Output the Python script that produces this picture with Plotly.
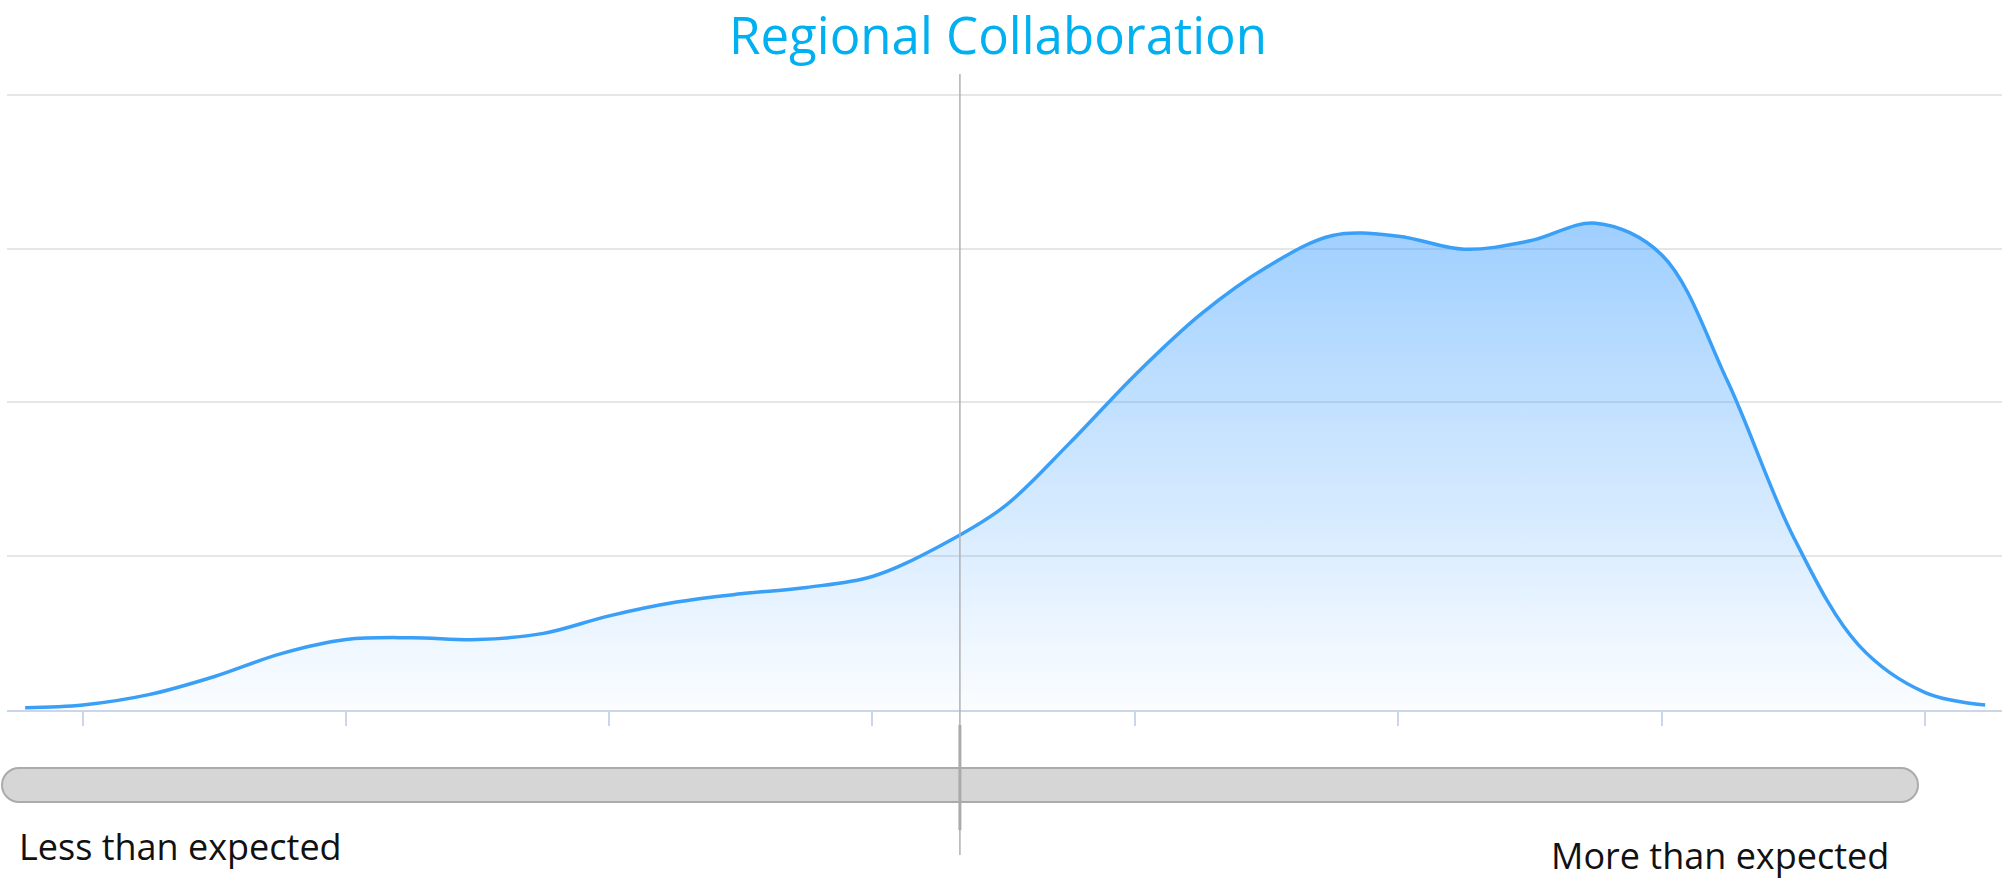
import plotly.graph_objects as go

# Density curve of the regional collaboration score (axis units: tick spacing = 1)
score_x = [-0.22, 0.00, 0.25, 0.50, 0.75, 1.00, 1.25, 1.50, 1.75, 2.00, 2.25, 2.50,
           2.75, 3.00, 3.25, 3.50, 3.75, 4.00, 4.25, 4.50, 4.75, 5.00, 5.25, 5.50,
           5.75, 6.00, 6.25, 6.50, 6.75, 7.00, 7.23]
density_y = [0.015, 0.033, 0.100, 0.218, 0.365, 0.458, 0.470, 0.458, 0.498, 0.612, 0.700, 0.755,
             0.797, 0.868, 1.060, 1.320, 1.735, 2.180, 2.575, 2.880, 3.085, 3.080, 2.995, 3.050,
             3.165, 2.960, 2.140, 1.130, 0.420, 0.115, 0.033]

x_ticks = [0, 1, 2, 3, 4, 5, 6, 7]
y_ticks = [0, 1, 2, 3, 4]
x_range = [-0.289, 7.294]
y_range = [0, 4.05]

# Position of the respondent's own score on the scale
own_score = 3.333

title_text = "Regional Collaboration"
low_label = "Less than expected"
high_label = "More than expected"

# Figure geometry (pixels)
W, H = 2002, 880
M_L, M_R, M_T, M_B = 7, 0, 87, 170
PLOT_W = W - M_L - M_R
PLOT_H = H - M_T - M_B
PLOT_BOTTOM = H - M_B


def row_to_paper(y_px):
    """Pixel row -> paper y."""
    return (PLOT_BOTTOM - y_px) / PLOT_H


def col_to_paper(x_px):
    """Pixel column -> paper x."""
    return (x_px - M_L) / PLOT_W


def data_to_paper(xv):
    """Data x -> paper x."""
    return (xv - x_range[0]) / (x_range[1] - x_range[0])


fig = go.Figure()

fig.add_trace(go.Scatter(
    x=score_x,
    y=density_y,
    mode="lines",
    line=dict(color="#3a9ff7", width=3.5, shape="spline", smoothing=1),
    fill="tozeroy",
    fillgradient=dict(
        type="vertical",
        colorscale=[[0, "rgba(51,153,255,0.02)"], [1, "rgba(51,153,255,0.47)"]],
    ),
    hoverinfo="skip",
    showlegend=False,
))

shapes = []

# Rounded slider track below the chart
x0, x1 = col_to_paper(2), col_to_paper(1918)
y_top, y_bot = row_to_paper(768), row_to_paper(802)
r_px = 17
rx = r_px / PLOT_W
ry = (y_top - y_bot) / 2
k = 0.5523
ym = (y_top + y_bot) / 2
path = (
    f"M {x0 + rx},{y_top} L {x1 - rx},{y_top} "
    f"C {x1 - rx + k * rx},{y_top} {x1},{ym + k * ry} {x1},{ym} "
    f"C {x1},{ym - k * ry} {x1 - rx + k * rx},{y_bot} {x1 - rx},{y_bot} "
    f"L {x0 + rx},{y_bot} "
    f"C {x0 + rx - k * rx},{y_bot} {x0},{ym - k * ry} {x0},{ym} "
    f"C {x0},{ym + k * ry} {x0 + rx - k * rx},{y_top} {x0 + rx},{y_top} Z"
)
shapes.append(dict(type="path", xref="paper", yref="paper", path=path,
                   fillcolor="#d6d6d6", line=dict(color="#ababab", width=2), layer="above"))

# Marker line for the own score, running through the chart and the track
mx = data_to_paper(own_score)
shapes.append(dict(type="line", xref="paper", yref="paper",
                   x0=mx, x1=mx, y0=row_to_paper(74), y1=row_to_paper(855),
                   line=dict(color="#b0b0b0", width=1.5), layer="above"))
shapes.append(dict(type="line", xref="paper", yref="paper",
                   x0=mx, x1=mx, y0=row_to_paper(725), y1=row_to_paper(830),
                   line=dict(color="#ababab", width=3), layer="above"))

annotations = [
    dict(text=low_label, xref="paper", yref="paper", x=col_to_paper(17), y=row_to_paper(846),
         xanchor="left", yanchor="middle", showarrow=False,
         font=dict(family="Open Sans", size=36, color="#111111")),
    dict(text=high_label, xref="paper", yref="paper", x=col_to_paper(1549), y=row_to_paper(855),
         xanchor="left", yanchor="middle", showarrow=False,
         font=dict(family="Open Sans", size=36, color="#111111")),
]

fig.update_layout(
    width=W, height=H,
    margin=dict(l=M_L, r=M_R, t=M_T, b=M_B, pad=0),
    paper_bgcolor="white",
    plot_bgcolor="white",
    title=dict(text=title_text, x=0.4985, xanchor="center", xref="container",
               y=1 - 36 / H, yanchor="middle", yref="container",
               font=dict(family="Open Sans", size=51, color="#00b0f0")),
    xaxis=dict(range=x_range, tickvals=x_ticks, showticklabels=False, ticks="outside",
               ticklen=14, tickwidth=2, tickcolor="#ccd6eb", showline=True,
               linecolor="#ccd6eb", linewidth=2, showgrid=False, zeroline=False,
               fixedrange=True),
    yaxis=dict(range=y_range, tickvals=y_ticks, showticklabels=False, ticks="",
               showgrid=True, gridcolor="#e6e6e6", gridwidth=2, showline=False,
               zeroline=False, fixedrange=True),
    shapes=shapes,
    annotations=annotations,
    showlegend=False,
)

fig.write_html("out.html")
